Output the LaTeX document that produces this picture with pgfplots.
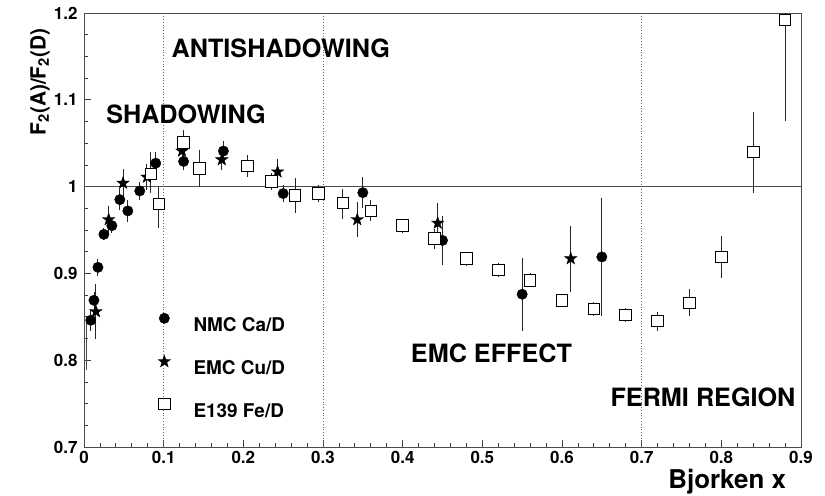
\documentclass[border=0pt]{standalone}
\usepackage{fontspec}
\setmainfont{TeX Gyre Heros}
\usepackage{graphicx}
\usepackage{pgfplots}
\pgfplotsset{compat=1.18}
\pgfdeclareplotmark{fstar}{%
  \pgfpathmoveto{\pgfqpointpolar{90}{\pgfplotmarksize}}%
  \pgfpathlineto{\pgfqpointpolar{126}{0.40\pgfplotmarksize}}%
  \pgfpathlineto{\pgfqpointpolar{162}{\pgfplotmarksize}}%
  \pgfpathlineto{\pgfqpointpolar{198}{0.40\pgfplotmarksize}}%
  \pgfpathlineto{\pgfqpointpolar{234}{\pgfplotmarksize}}%
  \pgfpathlineto{\pgfqpointpolar{270}{0.40\pgfplotmarksize}}%
  \pgfpathlineto{\pgfqpointpolar{306}{\pgfplotmarksize}}%
  \pgfpathlineto{\pgfqpointpolar{342}{0.40\pgfplotmarksize}}%
  \pgfpathlineto{\pgfqpointpolar{18}{\pgfplotmarksize}}%
  \pgfpathlineto{\pgfqpointpolar{54}{0.40\pgfplotmarksize}}%
  \pgfpathclose
  \pgfusepathqfillstroke}

\pgfplotstableread{
x y e
0.0085 0.846 0.012
0.0125 0.869 0.010
0.0175 0.907 0.010
0.025 0.945 0.007
0.035 0.955 0.008
0.045 0.985 0.012
0.055 0.972 0.013
0.070 0.995 0.010
0.090 1.027 0.013
0.125 1.029 0.010
0.175 1.041 0.012
0.250 0.992 0.010
0.350 0.993 0.018
0.450 0.938 0.028
0.550 0.876 0.042
0.650 0.919 0.068
}\nmc

\pgfplotstableread{
x y e
0.015 0.856 0.032
0.031 0.962 0.016
0.049 1.004 0.016
0.079 1.011 0.015
0.123 1.041 0.010
0.173 1.031 0.012
0.243 1.017 0.015
0.343 0.962 0.020
0.444 0.958 0.023
0.611 0.917 0.038
}\emc

\pgfplotstableread{
x y ep em
0.084 1.0145 0.025 0.022
0.094 0.980 0.020 0.028
0.125 1.051 0.014 0.015
0.145 1.021 0.021 0.021
0.205 1.024 0.012 0.013
0.235 1.006 0.010 0.010
0.265 0.990 0.020 0.020
0.294 0.992 0.010 0.010
0.325 0.981 0.016 0.018
0.360 0.972 0.012 0.012
0.400 0.955 0.008 0.008
0.440 0.940 0.011 0.012
0.480 0.917 0.008 0.008
0.520 0.904 0.008 0.008
0.560 0.892 0.008 0.008
0.600 0.869 0.007 0.007
0.640 0.859 0.008 0.008
0.680 0.852 0.008 0.008
0.720 0.845 0.011 0.011
0.760 0.866 0.016 0.015
0.800 0.919 0.024 0.024
0.840 1.040 0.046 0.047
0.880 1.192 0.008 0.116
}\eoneth

\begin{document}
\begin{tikzpicture}
\useasboundingbox (-84bp,-49bp) rectangle (741bp,447bp);
\begin{axis}[
  at={(0,0)}, anchor=south west,
  scale only axis,
  width=717bp, height=434bp,
  xmin=0, xmax=0.9, ymin=0.7, ymax=1.2,
  xtick={0,0.1,...,0.9},
  ytick={0.7,0.8,0.9,1,1.1,1.2},
  minor x tick num=4,
  minor y tick num=3,
  tick pos=left,
  tick align=inside,
  major tick length=7bp,
  minor tick length=4bp,
  axis line style={black!70, line width=0.9bp},
  every tick/.style={black!75, line width=0.8bp},
  /pgf/number format/assume math mode=true,
  ticklabel style={font=\fontsize{17}{19}\selectfont\bfseries},
  xticklabel style={yshift=-1bp},
  yticklabel style={xshift=-3bp},
  xlabel={Bjorken x},
  xlabel style={at={(axis description cs:0.984,-0.0806)}, anchor=east,
    font=\fontsize{26}{28}\selectfont\bfseries},
  ylabel={F\textsubscript{2}(A)/F\textsubscript{2}(D)},
  ylabel style={at={(axis description cs:-0.0614,0.841)}, anchor=center,
    font=\fontsize{21}{24}\selectfont\bfseries},
  clip=true,
  legend style={draw=none, fill=none, at={(axis cs:0.0928,0.8545)}, anchor=north west,
    inner sep=0pt, row sep=22bp, nodes={inner sep=0pt},
    font=\fontsize{19}{21}\selectfont\bfseries},
  legend cell align=left,
  legend image code/.code={\path (-6bp,0bp) (29bp,0bp); \draw[#1] plot coordinates {(0bp,7bp)};},
]
\addplot[black!70, line width=0.9bp, forget plot] coordinates {(0,1) (0.9,1)};
\addplot[black!60, dotted, line width=0.8bp, forget plot] coordinates {(0.1,0.7) (0.1,1.2)};
\addplot[black!60, dotted, line width=0.8bp, forget plot] coordinates {(0.3,0.7) (0.3,1.2)};
\addplot[black!60, dotted, line width=0.8bp, forget plot] coordinates {(0.7,0.7) (0.7,1.2)};
% E139 lowest-x point: only its error bar is visible at the axis edge
\addplot[black!70, line width=0.9bp, forget plot] coordinates {(0.003,0.789) (0.003,0.850)};

\addplot[only marks, mark=*, mark size=5.2bp, black,
  error bars/.cd, y dir=both, y explicit, error mark=none,
  error bar style={line width=0.9bp, black!85}]
  table[x=x, y=y, y error=e] {\nmc};
\addlegendentry{NMC Ca/D}
\addplot[only marks, mark=fstar, mark size=6.5bp, black,
  error bars/.cd, y dir=both, y explicit, error mark=none,
  error bar style={line width=0.9bp, black!85}]
  table[x=x, y=y, y error=e] {\emc};
\addlegendentry{EMC Cu/D}
\addplot[only marks, mark=square*, mark size=5.8bp, mark options={fill=white, draw=black, line width=0.9bp},
  error bars/.cd, y dir=both, y explicit, error mark=none,
  error bar style={line width=0.9bp, black!85}]
  table[x=x, y=y, y error plus=ep, y error minus=em] {\eoneth};
\addlegendentry{E139 Fe/D}

\node[font=\fontsize{25.3}{27}\selectfont\bfseries] at (axis cs:0.128,1.0836) {SHADOWING};
\node[font=\fontsize{25.3}{27}\selectfont\bfseries] at (axis cs:0.247,1.1593) {ANTISHADOWING};
\node[font=\fontsize{25.3}{27}\selectfont\bfseries] at (axis cs:0.5115,0.808) {EMC EFFECT};
\node[font=\fontsize{25.3}{27}\selectfont\bfseries] at (axis cs:0.777,0.7568) {FERMI REGION};
\end{axis}
\end{tikzpicture}
\end{document}
